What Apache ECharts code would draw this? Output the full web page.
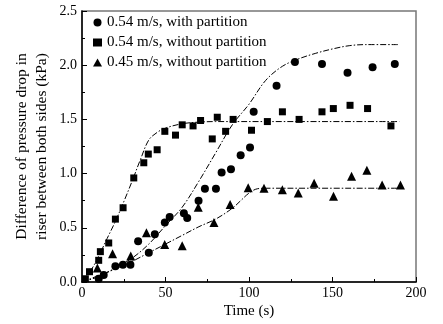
<!DOCTYPE html>
<html>
<head>
<meta charset="utf-8">
<script src="https://cdn.jsdelivr.net/npm/echarts@6/dist/echarts.min.js"></script>
<style>
  html, body { margin: 0; padding: 0; background: #fff; }
  #chart { width: 443px; height: 324px; }
</style>
</head>
<body>
<div id="chart"></div>
<script>
// Measured points: time (s) and pressure-drop difference (kPa)
const withPartTime = [10, 13, 20, 24.5, 29, 33.6, 40, 43.6, 49.6, 52.5, 61, 63, 69.8, 73.6, 80.2, 83.6, 89.2, 95, 100.6, 102.8, 116.5, 127.5, 143.7, 159, 174, 187.3];
const withPartVal  = [0.03, 0.065, 0.145, 0.16, 0.16, 0.375, 0.27, 0.44, 0.55, 0.60, 0.635, 0.59, 0.75, 0.86, 0.86, 1.01, 1.04, 1.17, 1.24, 1.57, 1.81, 2.03, 2.01, 1.93, 1.98, 2.01];

const noPart54Time = [2, 4.5, 10, 11, 16, 20, 24.6, 31, 37, 39.7, 45, 49.6, 56, 60, 66.5, 71, 78, 81, 86, 90.5, 101.5, 111, 120, 130, 143.7, 150.5, 160.5, 171, 185];
const noPart54Val  = [0.03, 0.095, 0.2, 0.28, 0.36, 0.58, 0.685, 0.96, 1.10, 1.18, 1.22, 1.39, 1.355, 1.45, 1.44, 1.49, 1.32, 1.52, 1.39, 1.50, 1.40, 1.48, 1.57, 1.50, 1.57, 1.60, 1.63, 1.60, 1.44];

const noPart45Time = [9.2, 18.3, 29.2, 38.6, 49.5, 60, 69.6, 79, 88.7, 99.5, 109, 120, 129.5, 139, 150.6, 161.4, 170.6, 179.7, 190.7];
const noPart45Val  = [0.13, 0.26, 0.24, 0.455, 0.345, 0.335, 0.69, 0.55, 0.715, 0.87, 0.865, 0.85, 0.82, 0.91, 0.79, 0.975, 1.03, 0.895, 0.895];

// Fitted trend curves (dash-dot)
const fitWithTime = [0, 10, 20, 30, 40, 50, 60, 70, 80, 90, 100, 110, 120, 130, 140, 150, 160, 170, 190];
const fitWithVal  = [0, 0.05, 0.13, 0.22, 0.35, 0.52, 0.69, 0.93, 1.19, 1.45, 1.64, 1.86, 1.99, 2.06, 2.11, 2.15, 2.18, 2.19, 2.19];

const fit54Time = [0, 5, 10, 15, 20, 25, 30, 35, 40, 45, 50, 60, 70, 80, 190];
const fit54Val  = [0.02, 0.1, 0.24, 0.4, 0.56, 0.74, 0.93, 1.13, 1.31, 1.38, 1.42, 1.46, 1.475, 1.48, 1.48];

const fit45Time = [0, 10, 20, 30, 40, 50, 60, 70, 80, 90, 95, 100, 105, 110, 190];
const fit45Val  = [0, 0.06, 0.12, 0.19, 0.27, 0.35, 0.43, 0.51, 0.58, 0.68, 0.75, 0.82, 0.86, 0.865, 0.865];

const seriesNames = ['0.54 m/s, with partition', '0.54 m/s, without partition', '0.45 m/s, without partition'];
const xTicks = { min: 0, max: 200, interval: 50 };
const yTicks = { min: 0, max: 2.5, interval: 0.5 };

const zip = (xs, ys) => xs.map((x, i) => [x, ys[i]]);
const FONT = '"Liberation Serif", "DejaVu Serif", serif';

function fitLine(xs, ys) {
  return {
    type: 'line', data: zip(xs, ys), smooth: 0.35, symbol: 'none', silent: true,
    lineStyle: { color: '#000', width: 1, type: [6, 2, 1.5, 2] }, z: 1
  };
}
function points(name, xs, ys, symbol, size) {
  return {
    name: name, type: 'scatter', data: zip(xs, ys), symbol: symbol, symbolSize: size,
    itemStyle: { color: '#000', opacity: 1 }, z: 3
  };
}

const chart = echarts.init(document.getElementById('chart'), null, { renderer: 'canvas' });
chart.setOption({
  animation: false,
  backgroundColor: '#fff',
  color: ['#000', '#000', '#000'],
  textStyle: { fontFamily: FONT, color: '#000' },
  grid: {
    left: 82, right: 27, top: 11, bottom: 42, containLabel: false, outerBoundsMode: 'none',
    show: true, borderColor: '#777', borderWidth: 1.5
  },
  legend: {
    data: seriesNames.map((n, i) => ({ name: n, icon: ['circle', 'rect', 'triangle'][i], itemStyle: { color: '#000', opacity: 1 } })),
    orient: 'vertical', left: 88, top: 10, itemGap: 5, itemWidth: 9, itemHeight: 8,
    textStyle: { fontFamily: FONT, fontSize: 15, color: '#000' }
  },
  xAxis: {
    type: 'value', min: xTicks.min, max: xTicks.max, interval: xTicks.interval,
    name: 'Time (s)', nameLocation: 'middle', nameGap: 22, nameMoveOverlap: false,
    nameTextStyle: { fontFamily: FONT, fontSize: 15, color: '#000', verticalAlign: 'top' },
    axisLine: { lineStyle: { color: '#000', width: 1.5 } },
    axisTick: { inside: true, length: 5, lineStyle: { color: '#000' } },
    minorTick: { show: true, splitNumber: 2, length: 3, lineStyle: { color: '#000' } },
    axisLabel: { fontFamily: FONT, fontSize: 14, color: '#000', margin: 4 },
    splitLine: { show: false }
  },
  yAxis: {
    type: 'value', min: yTicks.min, max: yTicks.max, interval: yTicks.interval,
    name: 'Difference of pressure drop in\nriser between both sides (kPa)',
    nameLocation: 'middle', nameGap: 30, nameRotate: 90, nameMoveOverlap: false,
    nameTextStyle: { fontFamily: FONT, fontSize: 15.5, color: '#000', lineHeight: 20 },
    axisLine: { lineStyle: { color: '#000', width: 1.5 } },
    axisTick: { inside: true, length: 5, lineStyle: { color: '#000' } },
    minorTick: { show: true, splitNumber: 2, length: 3, lineStyle: { color: '#000' } },
    axisLabel: { fontFamily: FONT, fontSize: 14, color: '#000', margin: 5, formatter: v => v.toFixed(1) },
    splitLine: { show: false }
  },
  series: [
    fitLine(fitWithTime, fitWithVal),
    fitLine(fit54Time, fit54Val),
    fitLine(fit45Time, fit45Val),
    points(seriesNames[0], withPartTime, withPartVal, 'circle', 8),
    points(seriesNames[1], noPart54Time, noPart54Val, 'rect', 7),
    points(seriesNames[2], noPart45Time, noPart45Val, 'triangle', 9)
  ]
});
</script>
</body>
</html>
